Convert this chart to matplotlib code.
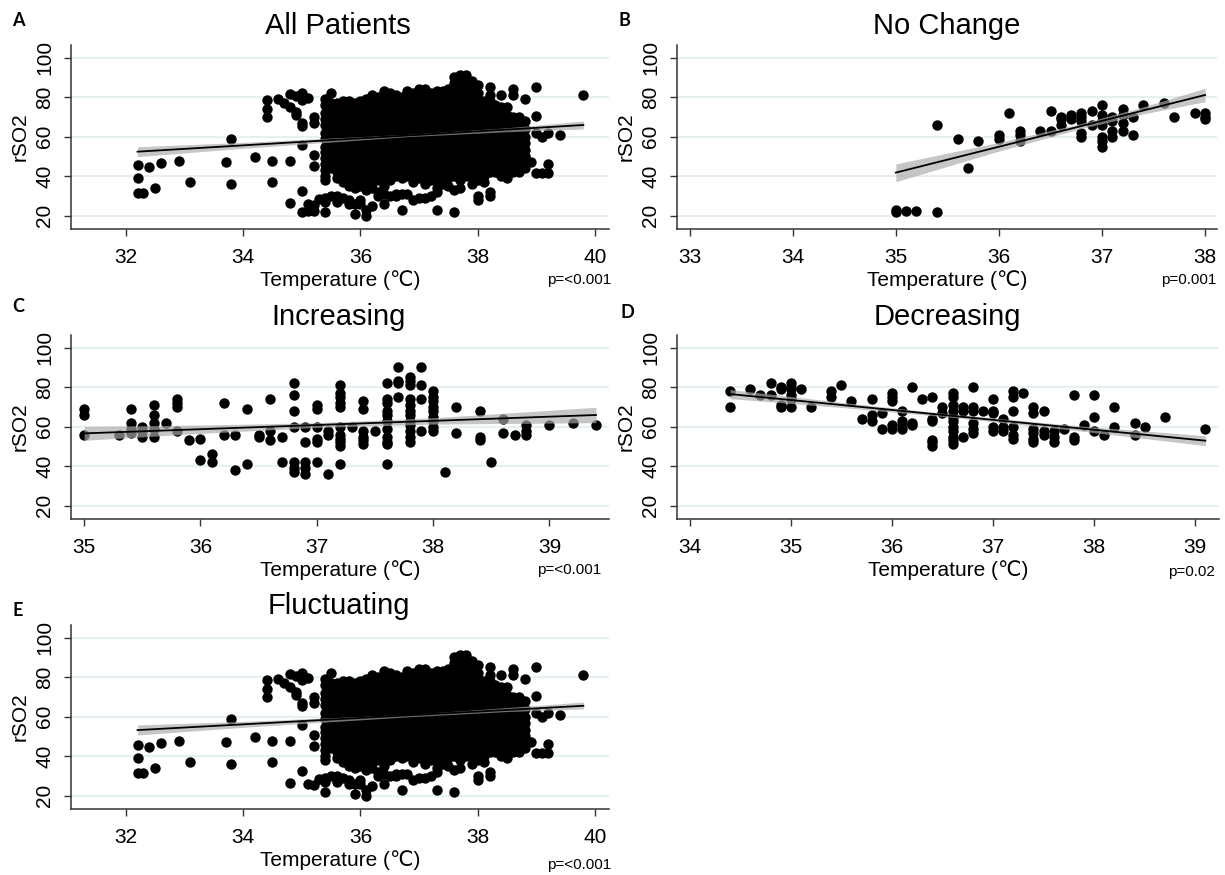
import numpy as np
import matplotlib
matplotlib.use('Agg')
import matplotlib.pyplot as plt

plt.rcParams['font.family'] = ['Liberation Sans', 'DejaVu Sans']

### rSO2 vs temperature (columns of points per temperature)

# A / E  dense core (shared)
core_temp = [35.4, 35.5, 35.6, 35.7, 35.8, 35.9, 36.0, 36.1, 36.2, 36.3, 36.4, 36.5,
             36.6, 36.7, 36.8, 36.9, 37.0, 37.1, 37.2, 37.3, 37.4, 37.5, 37.6, 37.7,
             37.8, 37.9, 38.0, 38.1, 38.2, 38.3, 38.4, 38.5, 38.6, 38.7, 38.8]
core_rso2 = [
    [79, 76, 72, 69, 66, 62, 59, 55, 52, 49, 46, 43, 40, 38, 29, 27, 22],
    [82, 77, 74, 70, 67, 63, 60, 57, 53, 50, 47, 44, 30],
    [77, 74, 71, 68, 64, 61, 58, 54, 51, 48, 45, 42, 39, 30, 27],
    [78, 75, 72, 69, 65, 62, 59, 56, 52, 49, 46, 43, 40, 37, 29],
    [78, 75, 71, 68, 65, 61, 58, 55, 51, 48, 44, 41, 38, 35, 28, 26],
    [77, 74, 71, 67, 64, 60, 57, 54, 50, 47, 44, 40, 37, 34, 26, 21],
    [78, 75, 72, 68, 65, 62, 58, 55, 52, 48, 45, 42, 38, 35, 28, 26],
    [79, 76, 73, 69, 66, 63, 59, 56, 53, 49, 46, 43, 39, 36, 33, 23, 20],
    [81, 77, 74, 71, 67, 64, 61, 57, 54, 51, 47, 44, 41, 37, 34, 25],
    [80, 77, 73, 70, 67, 63, 60, 57, 53, 50, 46, 43, 40, 38, 32, 30],
    [83, 80, 76, 73, 70, 66, 63, 59, 56, 53, 49, 46, 42, 39, 35, 31, 26],
    [82, 79, 75, 72, 68, 65, 62, 58, 55, 51, 48, 45, 41, 38, 30],
    [81, 78, 74, 71, 68, 64, 61, 57, 54, 51, 47, 44, 40, 31, 30],
    [80, 77, 73, 70, 66, 63, 60, 56, 53, 49, 46, 43, 39, 31, 23],
    [83, 80, 76, 73, 69, 66, 62, 59, 56, 52, 49, 45, 42, 40, 31],
    [82, 79, 75, 72, 68, 65, 61, 58, 55, 51, 48, 44, 41, 37, 28],
    [84, 81, 77, 74, 70, 67, 64, 60, 57, 53, 50, 46, 43, 39, 29],
    [84, 80, 77, 73, 70, 66, 63, 59, 56, 52, 49, 46, 42, 39, 36, 29],
    [82, 79, 76, 72, 69, 65, 62, 58, 55, 51, 48, 44, 41, 38, 30],
    [83, 80, 76, 73, 69, 66, 62, 59, 55, 52, 48, 45, 41, 38, 34, 32, 23],
    [83, 80, 77, 73, 70, 66, 63, 59, 56, 52, 49, 45, 42, 38, 36],
    [84, 81, 77, 74, 70, 67, 63, 60, 56, 53, 49, 46, 42, 39, 35],
    [90, 87, 84, 80, 77, 73, 70, 66, 63, 59, 56, 52, 49, 45, 42, 40, 33, 22],
    [91, 88, 85, 81, 78, 74, 71, 67, 64, 60, 57, 53, 50, 46, 43, 40, 38, 34],
    [91, 88, 84, 81, 77, 74, 70, 67, 63, 60, 56, 53, 49, 46, 42, 40],
    [88, 85, 82, 78, 75, 71, 68, 64, 61, 57, 54, 50, 47, 43, 40, 36],
    [86, 82, 79, 75, 72, 68, 65, 61, 58, 54, 51, 47, 44, 40, 38, 30, 28],
    [78, 75, 71, 68, 64, 61, 57, 54, 50, 47, 43, 40, 37],
    [85, 81, 78, 74, 71, 67, 64, 60, 57, 53, 50, 46, 43, 42, 32, 30],
    [76, 73, 69, 66, 62, 59, 55, 52, 48, 45, 42],
    [81, 75, 72, 68, 65, 61, 58, 54, 51, 47, 44, 40],
    [75, 71, 68, 64, 61, 57, 54, 50, 47, 43, 39],
    [84, 81, 70, 67, 63, 60, 56, 53, 49, 46, 42],
    [70, 66, 62, 59, 55, 52, 48, 45, 42],
    [79, 68, 64, 60, 57, 53, 50, 48, 44],
]
# sparse points around the core (shared by A and E)
edge_temp = [32.2, 32.3, 32.4, 32.5, 32.6, 32.9, 33.1, 33.7, 33.8, 34.2, 34.4, 34.5,
             34.6, 34.7, 34.8, 34.9, 35.0, 35.1, 35.2, 35.3, 38.9, 39.0, 39.1, 39.2,
             39.4, 39.8]
edge_rso2 = [[45.7, 38.9, 31.3], [31.3], [44.5], [34.2], [46.8], [47.8], [37.2], [47.3],
             [59.0, 36.0], [49.5], [78.6, 73.8, 69.8], [47.8, 37.2], [78.9], [76.9],
             [81.6, 75.2, 47.8, 26.2], [80.6, 72.7, 71.0], [82.3, 78.6, 67.1, 65.4, 55.8, 32.7],
             [79.4, 26.0], [70.1, 66.8, 50.7, 45.1, 25.4], [28.3], [47.3],
             [85.0, 70.5, 61.7, 41.8], [59.7, 41.8], [61.7, 46.2, 41.8], [60.8], [81.1]]
# only in "All Patients"
a_only_temp = [35.0, 35.1, 35.2]
a_only_rso2 = [[22.0], [22.5], [22.5]]

# B  No Change
b_temp = [35.0, 35.1, 35.2, 35.4, 35.6, 35.7, 35.8, 36.0, 36.1, 36.2, 36.4, 36.5, 36.6,
          36.7, 36.8, 36.9, 37.0, 37.1, 37.2, 37.3, 37.4, 37.6, 37.7, 37.9, 38.0]
b_rso2 = [[22, 23], [22.5], [22.5], [66, 22], [59], [44], [58], [61, 59], [72],
          [63, 61, 58], [63], [73, 63], [70, 69, 66], [71, 69], [72, 70, 68, 62, 60],
          [73, 66], [76, 71, 68, 66, 60, 58, 55], [70, 68, 63, 60], [74, 71, 67, 63],
          [70, 61], [76], [77], [70], [72], [72, 70, 69]]

# C  Increasing
c_temp = [35.0, 35.3, 35.4, 35.5, 35.6, 35.7, 35.8, 35.9, 36.0, 36.1, 36.2, 36.3, 36.4,
          36.5, 36.6, 36.7, 36.8, 36.9, 37.0, 37.1, 37.2, 37.3, 37.4, 37.5, 37.6, 37.7,
          37.8, 37.9, 38.0, 38.1, 38.2, 38.4, 38.5, 38.6, 38.7, 38.8, 39.0, 39.2, 39.4]
c_rso2 = [[69, 66, 56], [56], [69, 62, 59, 57], [60, 58, 55], [71, 66, 62, 59, 55], [62],
          [74, 72, 70, 58], [53], [54, 43], [46, 42], [72, 56], [56, 38], [69, 41],
          [56, 55], [74, 58, 53], [55, 42], [82, 76, 68, 60, 42, 39, 37],
          [60, 52, 42, 39, 36], [71, 69, 60, 54, 52, 42], [58, 56, 36],
          [81, 77, 75, 72, 70, 60, 56, 54, 52, 50, 41], [60], [73, 69, 58, 55, 53, 51],
          [58], [82, 74, 72, 68, 66, 63, 59, 55, 52, 51, 41], [90, 83, 82, 75],
          [85, 83, 81, 74, 71, 68, 66, 63, 61, 58, 55, 52], [90, 81, 74, 58],
          [78, 75, 73, 70, 68, 65, 63, 60, 58], [37], [70, 57], [68, 55, 53], [42],
          [64, 57], [56], [61, 58, 56], [61], [62], [61]]

# D  Decreasing
d_temp = [34.4, 34.6, 34.7, 34.8, 34.9, 35.0, 35.1, 35.2, 35.4, 35.5, 35.6, 35.7, 35.8,
          35.9, 36.0, 36.1, 36.2, 36.3, 36.4, 36.5, 36.6, 36.7, 36.8, 36.9, 37.0, 37.1,
          37.2, 37.3, 37.4, 37.5, 37.6, 37.7, 37.8, 37.9, 38.0, 38.1, 38.2, 38.4, 38.5,
          38.7, 39.1]
d_rso2 = [[78, 70], [79], [76], [82, 76], [80, 79, 71, 70], [82, 80, 79, 76, 74, 70], [79],
          [70], [78, 75], [81], [73], [64], [74, 66, 63], [67, 59], [77, 75, 73, 61, 59],
          [68, 63, 61, 59], [80, 62, 61], [74], [75, 64, 63, 53, 52, 50], [70, 67],
          [77, 75, 71, 68, 65, 63, 60, 58, 55, 53, 51], [70, 68, 55],
          [80, 70, 68, 62, 59, 57], [68], [74, 68, 67, 60, 58], [64, 60, 58],
          [78, 75, 68, 60, 56, 54], [77], [70, 67, 59, 57, 54, 52], [68, 58, 56],
          [58, 55, 52], [59], [76, 55, 53], [61], [76, 65, 58], [56], [70, 60], [62, 56],
          [60], [65], [59]]

# fitted lines (end points) and 95% CI bands
a_fit_x, a_fit_y = [32.2, 39.8], [52.4, 65.9]
a_ci_x = [32.2, 34.0, 36.8, 38.5, 39.8]
a_ci_lo = [49.9, 54.1, 60.0, 62.5, 63.9]
a_ci_hi = [54.9, 57.1, 61.2, 64.5, 67.9]

b_fit_x, b_fit_y = [35.0, 38.0], [41.8, 81.1]
b_ci_x = [35.0, 36.0, 36.8, 37.4, 38.0]
b_ci_lo = [37.2, 52.7, 64.1, 71.5, 77.7]
b_ci_hi = [46.2, 57.1, 66.7, 75.1, 84.5]

c_fit_x, c_fit_y = [35.0, 39.4], [56.6, 65.9]
c_ci_x = [35.0, 36.0, 37.0, 38.0, 39.4]
c_ci_lo = [53.1, 56.6, 59.6, 61.3, 62.0]
c_ci_hi = [60.1, 60.8, 62.0, 64.5, 69.8]

d_fit_x, d_fit_y = [34.4, 39.1], [76.5, 52.9]
d_ci_x = [34.4, 35.5, 36.6, 37.8, 39.1]
d_ci_lo = [74.2, 69.7, 64.7, 58.2, 50.4]
d_ci_hi = [78.8, 72.3, 66.3, 60.6, 55.4]

e_fit_x, e_fit_y = [32.2, 39.8], [53.2, 65.5]
e_ci_x = [32.2, 34.0, 36.8, 38.5, 39.8]
e_ci_lo = [50.7, 54.6, 59.9, 62.6, 63.9]
e_ci_hi = [55.8, 57.6, 61.1, 64.6, 67.4]


def flat(temps, vals):
    xs, ys = [], []
    for t, vv in zip(temps, vals):
        for v in vv:
            xs.append(t)
            ys.append(v)
    return xs, ys


W, H = 1225, 875
fig = plt.figure(figsize=(W / 100, H / 100), dpi=100)


def panel(box, xs, ys, xlim, xticks, fx, fy, bx, blo, bhi, title, letter, letter_xy, title_xy, ptxt, p_xy):
    l, t, r, b = box
    ax = fig.add_axes([l / W, 1 - b / H, (r - l) / W, (b - t) / H])
    ax.set_xlim(xlim)
    ax.set_ylim(13.25, 106.4)
    for g in [20, 40, 60, 80, 100]:
        ax.axhline(g, color='#e6eff2', lw=1.5, zorder=0)
    ax.scatter(xs, ys, s=56, c='black', linewidths=0, zorder=2)
    ax.fill_between(bx, blo, bhi, color='#aaaaaa', alpha=0.67, lw=0, zorder=3)
    ax.plot(fx, fy, color='black', lw=1.3, zorder=4)
    for s in ['top', 'right']:
        ax.spines[s].set_visible(False)
    for s in ['left', 'bottom']:
        ax.spines[s].set_color('#333333')
        ax.spines[s].set_linewidth(1.1)
    ax.set_xticks(xticks)
    ax.set_yticks([20, 40, 60, 80, 100])
    ax.tick_params(axis='both', labelsize=15, length=5, width=1, color='#333333')
    ax.tick_params(axis='x', pad=9)
    ax.tick_params(axis='y', labelrotation=90, pad=7)
    for lab in ax.get_yticklabels():
        lab.set_va('center')
    ax.set_xlabel('Temperature (\u2103)', fontsize=15, labelpad=2)
    ax.set_ylabel('rSO2', fontsize=15, labelpad=4)
    fig.text(title_xy[0] / W, 1 - title_xy[1] / H, title, fontsize=21, ha='center', va='center')
    fig.text(letter_xy[0] / W, 1 - letter_xy[1] / H, letter, fontsize=13, fontweight='bold',
             family=['Lato', 'DejaVu Sans'], ha='center', va='center')
    fig.text(p_xy[0] / W, 1 - p_xy[1] / H, ptxt, fontsize=11, ha='right', va='center')
    return ax


cx, cy = flat(core_temp, core_rso2)
ex, ey = flat(edge_temp, edge_rso2)
ox, oy = flat(a_only_temp, a_only_rso2)

panel((71, 45, 609, 229), cx + ex + ox, cy + ey + oy, (31.066, 40.237), [32, 34, 36, 38, 40],
      a_fit_x, a_fit_y, a_ci_x, a_ci_lo, a_ci_hi, 'All Patients', 'A', (18, 20), (338, 26),
      'p=<0.001', (611, 280))

bx, by = flat(b_temp, b_rso2)
panel((677, 45, 1217, 229), bx, by, (32.877, 38.115), [33, 34, 35, 36, 37, 38],
      b_fit_x, b_fit_y, b_ci_x, b_ci_lo, b_ci_hi, 'No Change', 'B', (624, 20), (947, 26),
      'p=0.001', (1216, 280))

x3, y3 = flat(c_temp, c_rso2)
panel((71, 335, 609, 519), x3, y3, (34.887, 39.512), [35, 36, 37, 38, 39],
      c_fit_x, c_fit_y, c_ci_x, c_ci_lo, c_ci_hi, 'Increasing', 'C', (18, 307), (339, 317),
      'p=<0.001', (601, 570))

x4, y4 = flat(d_temp, d_rso2)
panel((677, 335, 1219, 519), x4, y4, (33.875, 39.235), [34, 35, 36, 37, 38, 39],
      d_fit_x, d_fit_y, d_ci_x, d_ci_lo, d_ci_hi, 'Decreasing', 'D', (627, 313), (947, 317),
      'p=0.02', (1215, 572))

panel((71, 625, 609, 809), cx + ex, cy + ey, (31.066, 40.237), [32, 34, 36, 38, 40],
      e_fit_x, e_fit_y, e_ci_x, e_ci_lo, e_ci_hi, 'Fluctuating', 'E', (18, 610), (339, 606),
      'p=<0.001', (611, 865))

plt.savefig('out.png', dpi=100)
